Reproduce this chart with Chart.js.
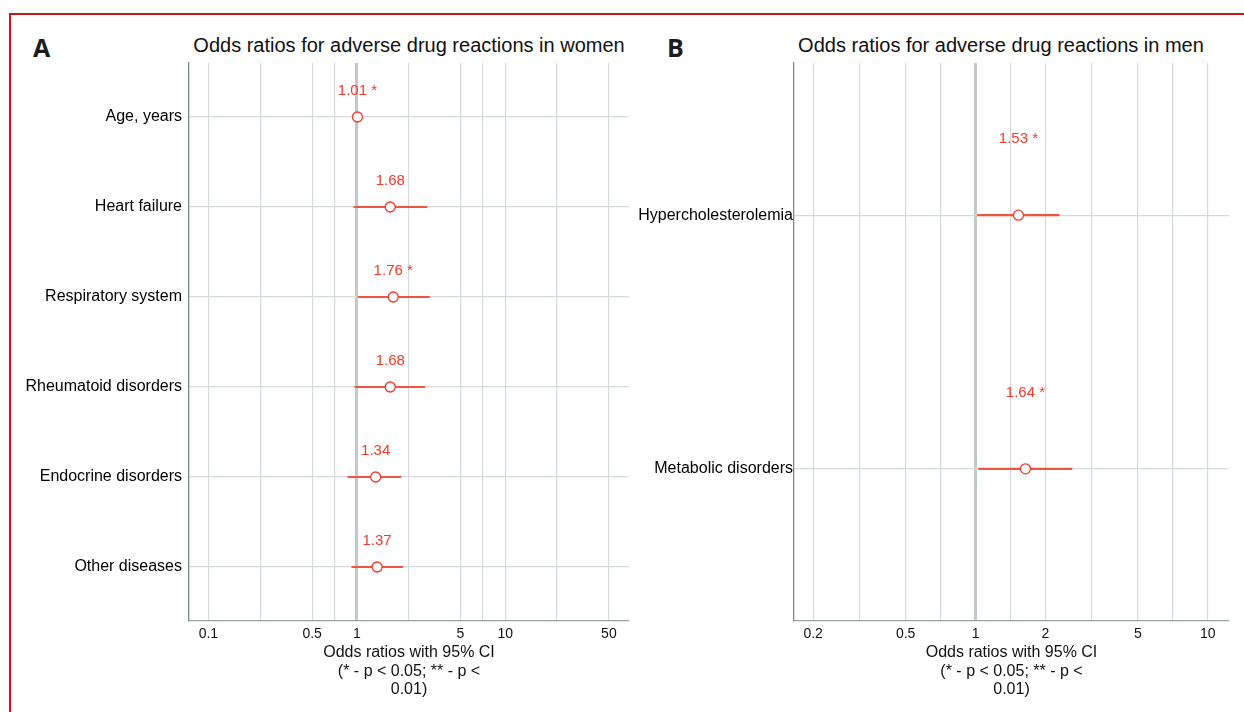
<!DOCTYPE html>
<html>
<head>
<meta charset="utf-8">
<script src="https://cdn.jsdelivr.net/npm/chart.js@4.4.1/dist/chart.umd.min.js"></script>
<style>
  html, body { margin: 0; padding: 0; background: #fff; }
  #page { position: relative; width: 1244px; height: 712px; overflow: hidden; font-family: "Liberation Sans", Arial, sans-serif; }
  .frame-top { position: absolute; left: 9px; top: 13px; width: 1235px; height: 2px; background: #c4161c; }
  .frame-left { position: absolute; left: 9px; top: 13px; width: 2px; height: 699px; background: #c4161c; }
  .letter { position: absolute; top: 35px; font: 700 25px/25px "Open Sans", sans-serif; color: #1c1c1c; }
  .title { position: absolute; top: 33px; font-size: 20px; line-height: 24px; color: #111; white-space: nowrap; transform: translateX(-50%); }
  .box { position: absolute; top: 0; height: 712px; }
</style>
</head>
<body>
<div id="page">
  <div class="frame-top"></div>
  <div class="frame-left"></div>
  <div class="letter" style="left:33px">A</div>
  <div class="letter" style="left:667px">B</div>
  <div class="title" style="left:409px">Odds ratios for adverse drug reactions in women</div>
  <div class="title" style="left:1001px">Odds ratios for adverse drug reactions in men</div>
  <div class="box" style="left:20px;width:620px"><canvas id="chartA" width="620" height="712"></canvas></div>
  <div class="box" style="left:636px;width:608px"><canvas id="chartB" width="608" height="712"></canvas></div>
</div>
<script>
// ---- women (panel A) ----
const catsA = ['Age, years', 'Heart failure', 'Respiratory system', 'Rheumatoid disorders', 'Endocrine disorders', 'Other diseases'];
const orA = [1.01, 1.68, 1.76, 1.68, 1.34, 1.37];
const loA = [0.995, 0.955, 1.02, 0.97, 0.87, 0.925];
const hiA = [1.025, 2.97, 3.09, 2.87, 1.98, 2.04];
const sigA = ['*', '', '*', '', '', ''];
const ticksA = [0.1, 0.2236, 0.5, 0.7071, 1, 2.236, 5, 7.071, 10, 22.36, 50];
const tickLabelsA = ['0.1', '', '0.5', '', '1', '', '5', '', '10', '', '50'];

// ---- men (panel B) ----
const catsB = ['Hypercholesterolemia', 'Metabolic disorders'];
const orB = [1.53, 1.64];
const loB = [1.02, 1.03];
const hiB = [2.29, 2.60];
const sigB = ['*', '*'];
const ticksB = [0.2, 0.3162, 0.5, 0.7071, 1, 1.414, 2, 3.162, 5, 7.071, 10];
const tickLabelsB = ['0.2', '', '0.5', '', '1', '', '2', '', '5', '', '10'];

const xTitle = ['Odds ratios with 95% CI', '(* - p < 0.05; ** - p <', '0.01)'];

const RED = '#ee3a2c';
const RED_LINE = '#f0553f';
const GRID = '#d5dada';
const REF_LINE = '#c3c8c8';

Chart.defaults.font.family = '"Liberation Sans", Arial, sans-serif';
Chart.defaults.color = '#111';

// red OR labels above each point
const valueLabels = {
  id: 'valueLabels',
  afterDatasetsDraw(chart, args, opts) {
    const meta = chart.getDatasetMeta(1);
    const ctx = chart.ctx;
    ctx.save();
    ctx.fillStyle = RED;
    ctx.font = '15px "Liberation Sans", Arial, sans-serif';
    ctx.textAlign = 'center';
    ctx.textBaseline = 'middle';
    meta.data.forEach((pt, i) => ctx.fillText(opts.labels[i], pt.x, pt.y + opts.offset));
    ctx.restore();
  }
};

function forestChart(id, cfg) {
  const labels = cfg.or.map((v, i) => v.toFixed(2) + (cfg.sig[i] ? ' ' + cfg.sig[i] : ''));
  return new Chart(document.getElementById(id), {
    type: 'scatter',
    data: {
      datasets: [
        {
          type: 'bar',
          indexAxis: 'y',
          data: cfg.lo.map((lo, i) => ({ x: [lo, cfg.hi[i]], y: i })),
          backgroundColor: RED_LINE,
          borderWidth: 0,
          barThickness: 1.5,
          order: 2
        },
        {
          type: 'scatter',
          data: cfg.or.map((v, i) => ({ x: v, y: i })),
          pointRadius: 5,
          pointBorderWidth: 1.3,
          pointBorderColor: RED,
          pointBackgroundColor: '#fff',
          order: 1
        }
      ]
    },
    options: {
      responsive: false,
      animation: false,
      layout: { padding: { top: 63, right: cfg.padRight, left: 0, bottom: 0 } },
      plugins: {
        legend: { display: false },
        tooltip: { enabled: false },
        valueLabels: { labels, offset: cfg.labelOffset }
      },
      scales: {
        x: {
          type: 'logarithmic',
          min: cfg.min,
          max: cfg.max,
          bounds: 'data',
          offset: false,
          afterBuildTicks: s => { s.ticks = cfg.ticks.map(v => ({ value: v })); },
          afterFit: s => { s.height = 91; },
          ticks: {
            autoSkip: false, maxRotation: 0, padding: 5,
            color: '#111', font: { size: 14 },
            callback: (v, i) => cfg.tickLabels[i]
          },
          grid: {
            offset: false,
            drawTicks: false,
            color: c => (c.tick && c.tick.value === 1 ? REF_LINE : GRID),
            lineWidth: c => (c.tick && c.tick.value === 1 ? 3 : 1.2)
          },
          border: { color: '#9aa2a2', width: 1.3 },
          title: {
            display: true, text: xTitle, color: '#111',
            font: { size: 16, lineHeight: 1.15 },
            padding: { top: 0, bottom: 13 }
          }
        },
        y: {
          type: 'linear',
          reverse: true,
          min: -0.6,
          max: cfg.cats.length - 0.4,
          bounds: 'data',
          offset: false,
          afterBuildTicks: s => { s.ticks = cfg.cats.map((c, i) => ({ value: i })); },
          afterFit: s => { s.width = cfg.yWidth; },
          ticks: {
            autoSkip: false, padding: cfg.yPad,
            color: '#000', font: { size: 16 },
            callback: v => cfg.cats[v]
          },
          grid: { offset: false, drawTicks: false, color: GRID, lineWidth: 1.2 },
          border: { color: '#7f8888', width: 1.3 }
        }
      }
    },
    plugins: [valueLabels]
  });
}

forestChart('chartA', {
  cats: catsA, or: orA, lo: loA, hi: hiA, sig: sigA,
  ticks: ticksA, tickLabels: tickLabelsA,
  min: 0.074, max: 68.3, yWidth: 169, yPad: 7, padRight: 11, labelOffset: -26
});

forestChart('chartB', {
  cats: catsB, or: orB, lo: loB, hi: hiB, sig: sigB,
  ticks: ticksB, tickLabels: tickLabelsB,
  min: 0.1654, max: 12.33, yWidth: 158, yPad: 1, padRight: 15, labelOffset: -76
});
</script>
</body>
</html>
